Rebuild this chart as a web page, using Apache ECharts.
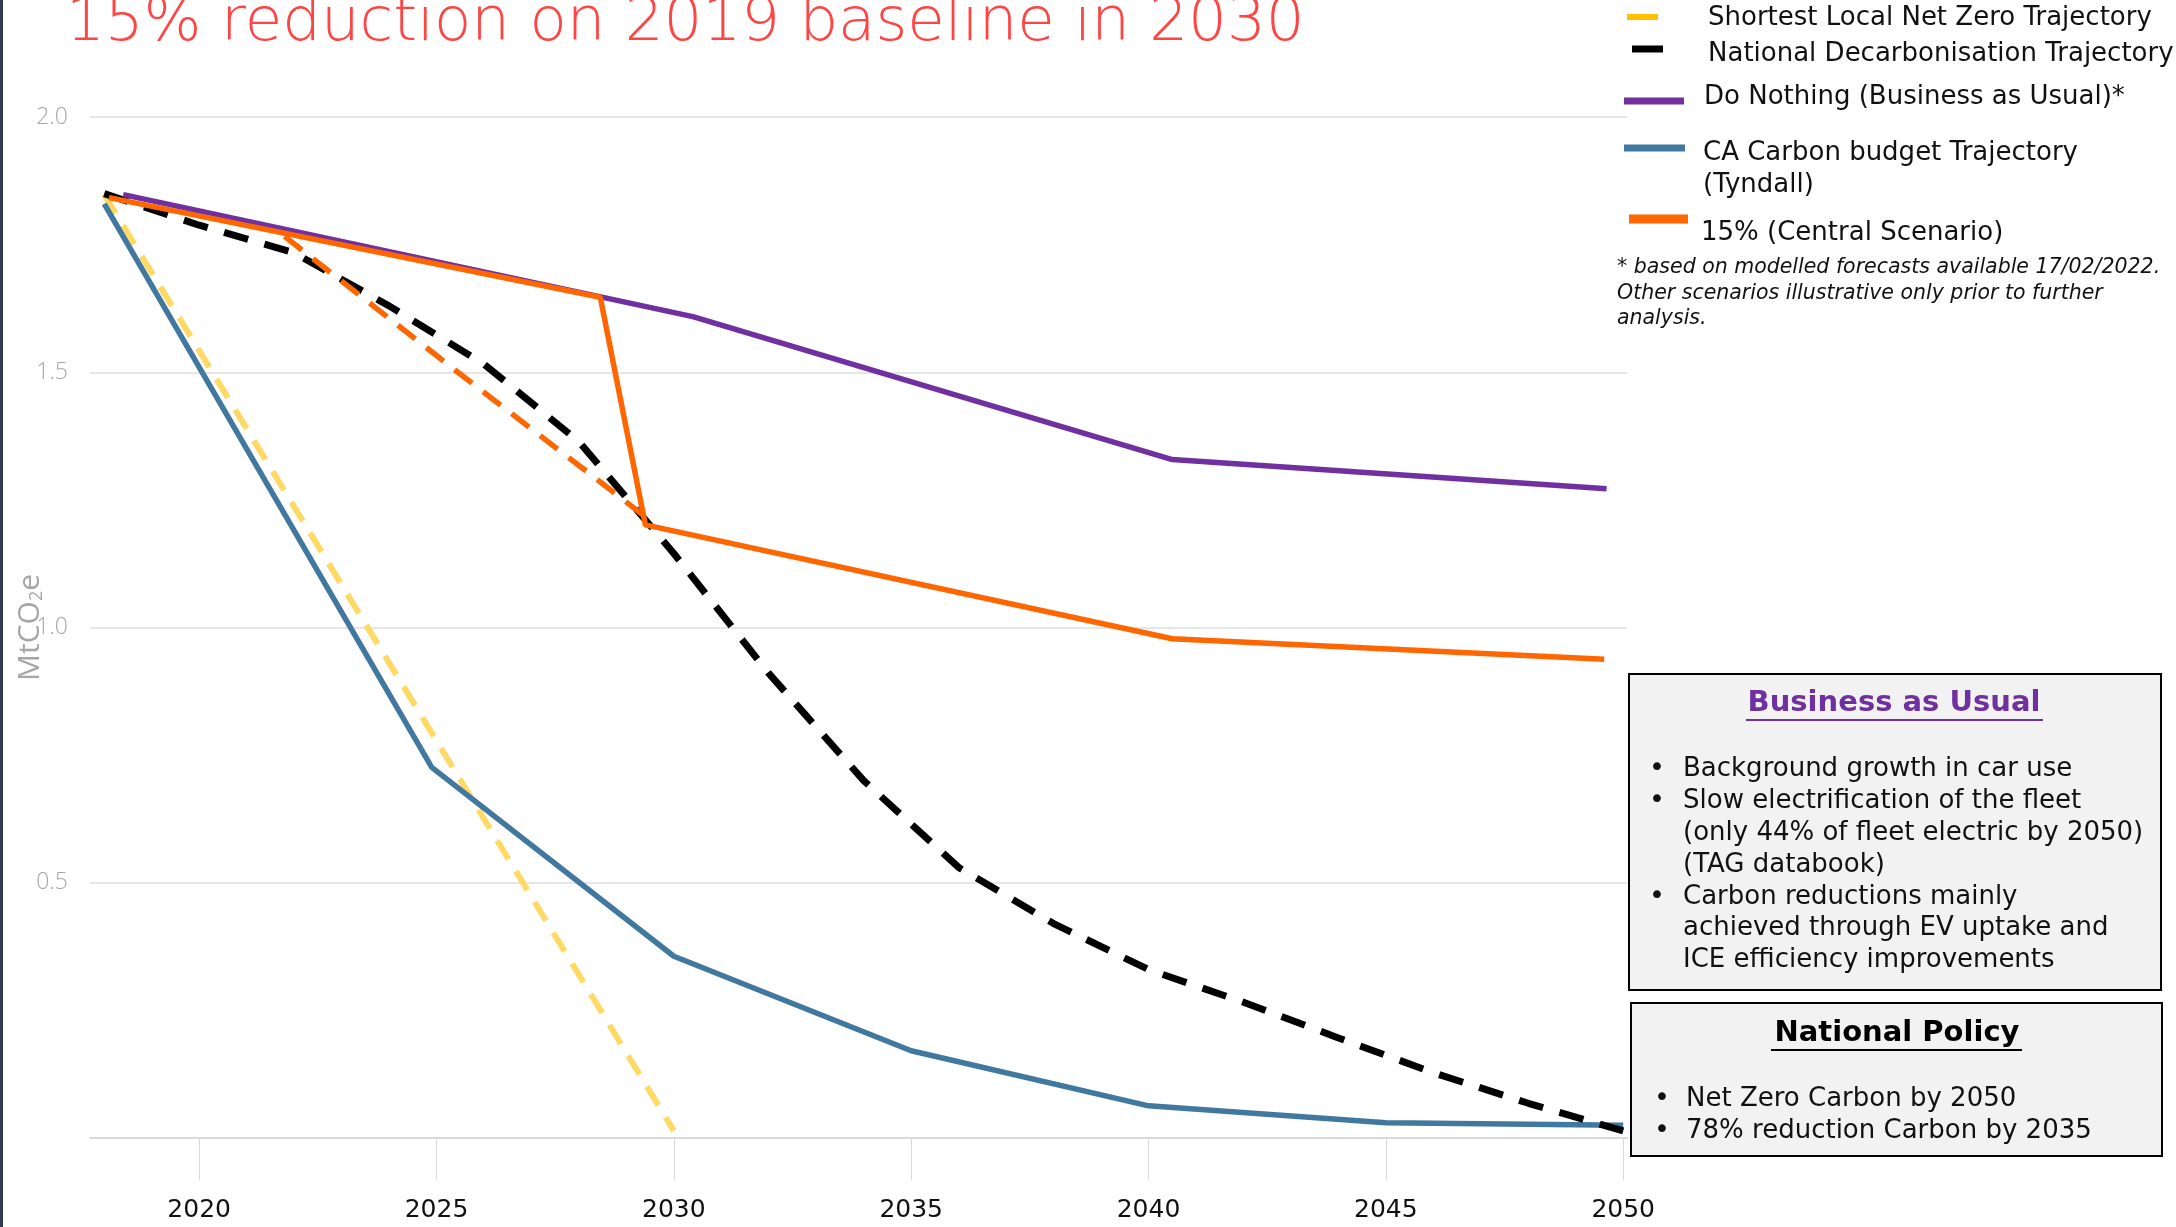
<!DOCTYPE html>
<html>
<head>
<meta charset="utf-8">
<script src="https://cdn.jsdelivr.net/npm/echarts@6/dist/echarts.min.js"></script>
<style>
html,body{margin:0;padding:0;background:#fff;}
#chart{width:2176px;height:1227px;}
</style>
</head>
<body>
<div id="chart"></div>
<script>
// ---- data ----
const xTickYears = [2020, 2025, 2030, 2035, 2040, 2045, 2050];

const shortestYears  = [2018.0, 2030.0];
const shortestValues = [1.848, 0.014];

const nationalYears  = [2018, 2020, 2022, 2024, 2026, 2028, 2030, 2032, 2034, 2036, 2038, 2040, 2042, 2044, 2046, 2048, 2050];
const nationalValues = [1.85, 1.788, 1.734, 1.63, 1.516, 1.364, 1.145, 0.91, 0.70, 0.53, 0.42, 0.33, 0.266, 0.196, 0.128, 0.068, 0.014];

const doNothingYears  = [2018.4, 2030.4, 2040.5, 2049.65];
const doNothingValues = [1.848, 1.609, 1.329, 1.272];

const tyndallYears  = [2018.0, 2024.9, 2030.0, 2035.0, 2040.0, 2045.0, 2050.0];
const tyndallValues = [1.83, 0.726, 0.356, 0.171, 0.063, 0.030, 0.025];

const centralYears  = [2018.1, 2028.45, 2029.4, 2040.5, 2049.6];
const centralValues = [1.842, 1.647, 1.201, 0.978, 0.938];

const centralDashYears  = [2021.8, 2025.45, 2029.4];
const centralDashValues = [1.766, 1.50, 1.217];

const legendLabels = [
  'Shortest Local Net Zero Trajectory',
  'National Decarbonisation Trajectory',
  'Do Nothing (Business as Usual)*',
  'CA Carbon budget Trajectory',
  '15% (Central Scenario)'
];
const noteLines = [
  '* based on modelled forecasts available 17/02/2022.',
  'Other scenarios illustrative only prior to further',
  'analysis.'
];
const bauLines = [
  ['•', 'Background growth in car use'],
  ['•', 'Slow electrification of the fleet'],
  ['', '(only 44% of fleet electric by 2050)'],
  ['', '(TAG databook)'],
  ['•', 'Carbon reductions mainly'],
  ['', 'achieved through EV uptake and'],
  ['', 'ICE efficiency improvements']
];
const policyLines = ['Net Zero Carbon by 2050', '78% reduction Carbon by 2035'];

function pairs(xs, ys) { return xs.map((x, i) => [x, ys[i]]); }

const BODY = '"DejaVu Sans"';
const chart = echarts.init(document.getElementById('chart'), null, {renderer: 'canvas'});

function lineSeries(name, xs, ys, color, width, dash, z) {
  return {
    name: name, type: 'line', data: pairs(xs, ys),
    symbol: 'none', showSymbol: false, animation: false, z: z,
    lineStyle: {color: color, width: width, type: dash || 'solid', cap: 'butt'}
  };
}

const graphics = [];
graphics.push({type: 'rect', left: 0, top: 0, shape: {width: 3, height: 1227}, style: {fill: '#2F3D4E'}, silent: true});
graphics.push({type: 'text', x: 66, y: 24, style: {text: '15% reduction on 2019 baseline in 2030', font: '200 61px ' + BODY, fill: '#FF4444', verticalAlign: 'middle'}});

const legendItems = [
  {x1: 1627, x2: 1658, y: 17, w: 6, c: '#FFC000', tx: 1708, ty: [18]},
  {x1: 1632, x2: 1663, y: 49, w: 7, c: '#000000', tx: 1708, ty: [54]},
  {x1: 1624, x2: 1684, y: 101, w: 7, c: '#7030A0', tx: 1704, ty: [97]},
  {x1: 1624, x2: 1685, y: 148, w: 7, c: '#41789F', tx: 1703, ty: [153, 185]},
  {x1: 1629, x2: 1688, y: 219, w: 9, c: '#FF6600', tx: 1701, ty: [233]}
];
legendItems.forEach((it, i) => {
  graphics.push({type: 'line', shape: {x1: it.x1, y1: it.y, x2: it.x2, y2: it.y}, style: {stroke: it.c, lineWidth: it.w}});
  const parts = i === 3 ? [legendLabels[3], '(Tyndall)'] : [legendLabels[i]];
  parts.forEach((p, k) => {
    graphics.push({type: 'text', x: it.tx, y: it.ty[k], style: {text: p, font: '26px ' + BODY, fill: '#111', verticalAlign: 'middle'}});
  });
});
noteLines.forEach((t, i) => {
  graphics.push({type: 'text', x: 1617, y: [268, 294, 319][i], style: {text: t, font: 'italic 20.5px ' + BODY, fill: '#111', verticalAlign: 'middle'}});
});

// Business as Usual box
graphics.push({type: 'rect', shape: {x: 1629, y: 674, width: 532, height: 316}, style: {fill: '#F2F2F2', stroke: '#000', lineWidth: 2}});
graphics.push({type: 'text', x: 1894, y: 703, style: {text: 'Business as Usual', font: 'bold 29px ' + BODY, fill: '#7030A0', align: 'center', verticalAlign: 'middle'}});
graphics.push({type: 'line', shape: {x1: 1746, y1: 720, x2: 2043, y2: 720}, style: {stroke: '#7030A0', lineWidth: 2}});
const bauY = [769, 801, 833, 865, 897, 928, 960];
bauLines.forEach((l, i) => {
  if (l[0]) graphics.push({type: 'text', x: 1649, y: bauY[i], style: {text: l[0], font: '27px ' + BODY, fill: '#111', verticalAlign: 'middle'}});
  graphics.push({type: 'text', x: 1683, y: bauY[i], style: {text: l[1], font: '26px ' + BODY, fill: '#111', verticalAlign: 'middle'}});
});

// National Policy box
graphics.push({type: 'rect', shape: {x: 1631, y: 1003, width: 531, height: 153}, style: {fill: '#F2F2F2', stroke: '#000', lineWidth: 2}});
graphics.push({type: 'text', x: 1897, y: 1033, style: {text: 'National Policy', font: 'bold 29px ' + BODY, fill: '#000', align: 'center', verticalAlign: 'middle'}});
graphics.push({type: 'line', shape: {x1: 1771, y1: 1050, x2: 2022, y2: 1050}, style: {stroke: '#000', lineWidth: 2}});
policyLines.forEach((t, i) => {
  const y = [1099, 1131][i];
  graphics.push({type: 'text', x: 1654, y: y, style: {text: '•', font: '27px ' + BODY, fill: '#111', verticalAlign: 'middle'}});
  graphics.push({type: 'text', x: 1686, y: y, style: {text: t, font: '26px ' + BODY, fill: '#111', verticalAlign: 'middle'}});
});

const option = {
  backgroundColor: '#ffffff',
  animation: false,
  grid: {left: 90, right: 549, top: 117, bottom: 89, containLabel: false, outerBoundsMode: 'none'},
  xAxis: {
    type: 'value', min: 2017.7, max: 2050.08,
    axisLine: {show: true, lineStyle: {color: '#D9D9D9', width: 2}},
    axisTick: {show: true, customValues: xTickYears, length: 42, inside: false, lineStyle: {color: '#D9D9D9', width: 1}},
    axisLabel: {customValues: xTickYears, color: '#111', fontSize: 25, margin: 60, fontFamily: 'DejaVu Sans',
      formatter: v => String(Math.round(v))},
    splitLine: {show: false}
  },
  yAxis: {
    type: 'value', min: 0, max: 2.0, interval: 0.5,
    name: 'MtCO{sub|2}e', nameLocation: 'middle', nameRotate: 90, nameGap: 44, nameMoveOverlap: false,
    nameTextStyle: {color: '#A6A6A6', fontSize: 30, fontFamily: 'Open Sans', rich: {sub: {fontSize: 18, color: '#A6A6A6', verticalAlign: 'bottom', padding: [14, 0, 0, 0]}}},
    axisLine: {show: false}, axisTick: {show: false},
    axisLabel: {color: '#A6A6A6', fontSize: 23, margin: 22, fontFamily: 'Open Sans', fontWeight: 300,
      formatter: v => (v === 0 ? '' : v.toFixed(1))},
    splitLine: {show: true, lineStyle: {color: '#E6E6E6', width: 2}}
  },
  series: [
    lineSeries('Shortest Local Net Zero Trajectory', shortestYears, shortestValues, '#FFD966', 6, [22, 14], 2),
    lineSeries('CA Carbon budget Trajectory', tyndallYears, tyndallValues, '#41789F', 5.5, 'solid', 3),
    lineSeries('National Decarbonisation Trajectory', nationalYears, nationalValues, '#000000', 7, [25, 17], 4),
    lineSeries('Do Nothing (Business as Usual)*', doNothingYears, doNothingValues, '#7030A0', 5.5, 'solid', 5),
    lineSeries('15% (Central Scenario)', centralYears, centralValues, '#FF6600', 5.5, 'solid', 6),
    lineSeries('15% (Central Scenario) path', centralDashYears, centralDashValues, '#FF6600', 5.5, [22, 14], 7)
  ],
  graphic: graphics
};
chart.setOption(option);
</script>
</body>
</html>
